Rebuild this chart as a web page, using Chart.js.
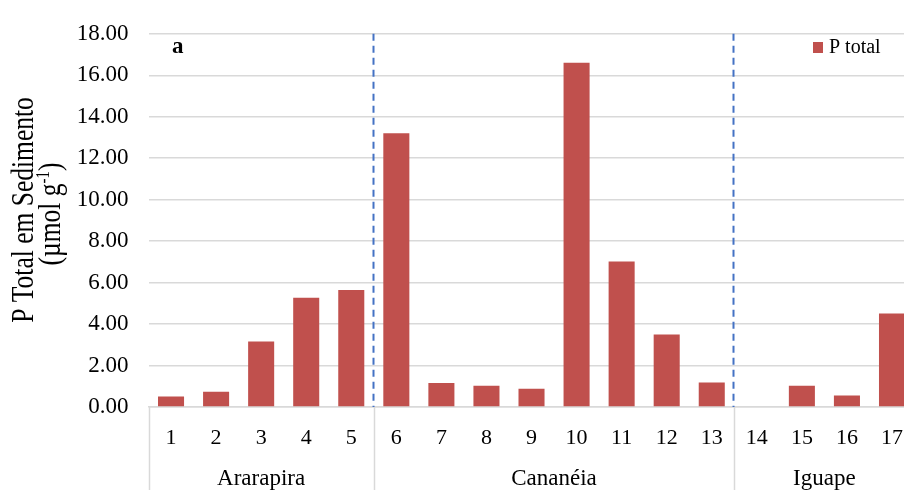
<!DOCTYPE html>
<html>
<head>
<meta charset="utf-8">
<script src="https://cdn.jsdelivr.net/npm/chart.js@4.4.1/dist/chart.umd.min.js"></script>
<style>
  html, body { margin: 0; padding: 0; background: #fff; overflow: hidden; }
  #wrap { position: relative; width: 921px; height: 490px; }
</style>
</head>
<body>
<div id="wrap"><canvas id="c"></canvas></div>
<script>
// ---- data ----
const categories = ['1','2','3','4','5','6','7','8','9','10','11','12','13','14','15','16','17'];
const pTotal = [0.51, 0.73, 3.16, 5.27, 5.64, 13.20, 1.16, 1.02, 0.88, 16.60, 7.02, 3.50, 1.18, 0.00, 1.02, 0.56, 4.51];
const groupNames = ['Ararapira', 'Cananéia', 'Iguape'];
const groupSizes = [5, 8, 4];
const yMin = 0, yMax = 18, yStep = 2;
const seriesLabel = 'P total';
const panelLabel = 'a';
const yTitleLine1 = 'P Total em Sedimento';
const yTitleLine2Parts = ['(µmol g', '-1', ')'];

const FONT = "'Liberation Serif', 'Times New Roman', serif";
const BAR = '#C0504D';
const GRID = '#d9d9d9';
const DASH = '#4472C4';

const extras = {
  id: 'extras',
  afterDraw(chart) {
    const ctx = chart.ctx;
    const ca = chart.chartArea;
    const xs = chart.scales.x;
    const catW = xs.getPixelForValue(1) - xs.getPixelForValue(0);
    const H = chart.height;
    ctx.save();
    let start = 0;
    const bounds = [];
    groupSizes.forEach((n, gi) => {
      const left = xs.getPixelForValue(start) - catW / 2;
      const right = xs.getPixelForValue(start + n - 1) + catW / 2;
      bounds.push([left, right]);
      ctx.fillStyle = '#000';
      ctx.font = '23px ' + FONT;
      ctx.textAlign = 'center';
      ctx.textBaseline = 'middle';
      ctx.fillText(groupNames[gi], (left + right) / 2, 479);
      start += n;
    });
    ctx.strokeStyle = GRID;
    ctx.lineWidth = 1.5;
    const edges = [bounds[0][0]].concat(bounds.map(b => b[1]));
    edges.forEach(x => {
      ctx.beginPath();
      ctx.moveTo(Math.round(x) + 0.5, ca.bottom);
      ctx.lineTo(Math.round(x) + 0.5, H);
      ctx.stroke();
    });
    ctx.strokeStyle = DASH;
    ctx.lineWidth = 2;
    ctx.setLineDash([7, 5]);
    for (let i = 0; i < bounds.length - 1; i++) {
      const x = Math.round(bounds[i][1]) - 0.5;
      ctx.beginPath();
      ctx.moveTo(x, ca.top);
      ctx.lineTo(x, ca.bottom);
      ctx.stroke();
    }
    ctx.setLineDash([]);
    ctx.fillStyle = '#000';
    ctx.font = 'bold 23px ' + FONT;
    ctx.textAlign = 'left';
    ctx.textBaseline = 'middle';
    ctx.fillText(panelLabel, 172, 47);
    const ds = chart.data.datasets[0];
    ctx.fillStyle = ds.backgroundColor;
    ctx.fillRect(813, 42, 10, 11);
    ctx.fillStyle = '#000';
    ctx.font = '20px ' + FONT;
    ctx.fillText(ds.label, 829, 47.5);

    // y-axis title (two lines, rotated)
    const SY = 1.24;
    ctx.textBaseline = 'alphabetic';
    ctx.save();
    ctx.translate(33, 210);
    ctx.rotate(-Math.PI / 2);
    ctx.scale(1, SY);
    ctx.font = '25.5px ' + FONT;
    ctx.textAlign = 'center';
    ctx.fillText(yTitleLine1, 0, 0);
    ctx.restore();
    ctx.save();
    ctx.translate(60, 214);
    ctx.rotate(-Math.PI / 2);
    ctx.scale(1, SY);
    const f1 = '25.5px ' + FONT, f2 = '15px ' + FONT;
    ctx.font = f1; const w0 = ctx.measureText(yTitleLine2Parts[0]).width;
    const w2 = ctx.measureText(yTitleLine2Parts[2]).width;
    ctx.font = f2; const w1 = ctx.measureText(yTitleLine2Parts[1]).width;
    let x0 = -(w0 + w1 + w2) / 2;
    ctx.textAlign = 'left';
    ctx.font = f1; ctx.fillText(yTitleLine2Parts[0], x0, 0);
    ctx.font = f2; ctx.fillText(yTitleLine2Parts[1], x0 + w0, -9);
    ctx.font = f1; ctx.fillText(yTitleLine2Parts[2], x0 + w0 + w1, 0);
    ctx.restore();
    ctx.restore();
  }
};

new Chart(document.getElementById('c'), {
  type: 'bar',
  data: {
    labels: categories,
    datasets: [{
      label: seriesLabel,
      data: pTotal,
      backgroundColor: BAR,
      barPercentage: 0.578,
      categoryPercentage: 1.0
    }]
  },
  options: {
    responsive: true,
    maintainAspectRatio: false,
    animation: false,
    devicePixelRatio: 1,
    layout: { padding: { top: 20, right: 0, left: 0, bottom: 0 } },
    plugins: { legend: { display: false }, tooltip: { enabled: false } },
    scales: {
      x: {
        offset: true,
        grid: { display: false, drawTicks: false },
        border: { display: true, color: GRID, width: 1.5 },
        ticks: { color: '#000', font: { family: FONT, size: 22 }, padding: 18, maxRotation: 0, autoSkip: false },
        afterFit(s) { s.height = 83; }
      },
      y: {
        min: yMin, max: yMax,
        grid: { color: GRID, lineWidth: 1.5, drawTicks: false },
        border: { display: false },
        ticks: {
          stepSize: yStep, color: '#000', padding: 20,
          font: { family: FONT, size: 23 },
          callback: v => Number(v).toFixed(2)
        },
        afterFit(s) { s.width = 148.5; }
      }
    }
  },
  plugins: [extras]
});
</script>
</body>
</html>
